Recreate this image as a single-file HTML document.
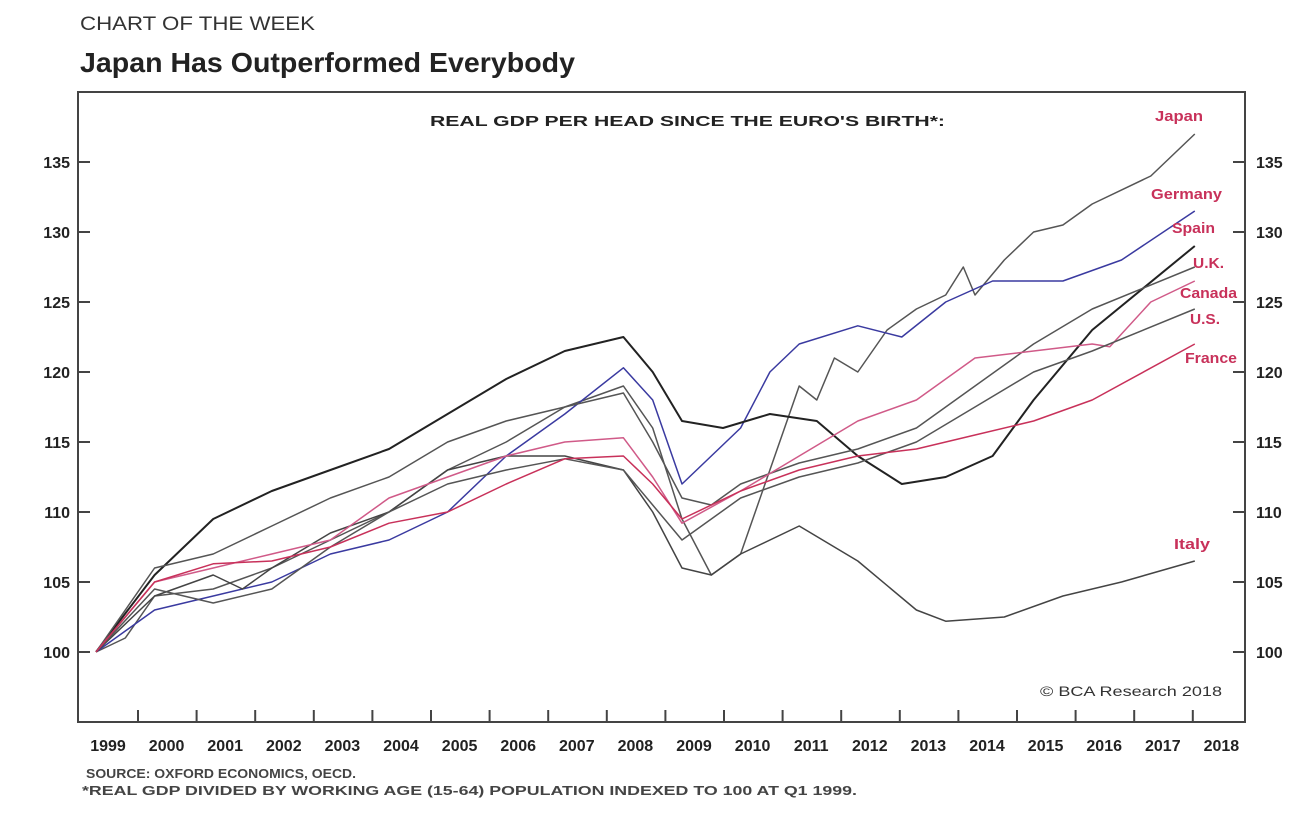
<!DOCTYPE html>
<html><head><meta charset="utf-8"><style>
body{margin:0;background:#fff;width:1316px;height:824px;overflow:hidden;font-family:"Liberation Sans",sans-serif;}
</style></head><body>
<svg id="s" width="1316" height="824" xmlns="http://www.w3.org/2000/svg" font-family="Liberation Sans, sans-serif">
<text x="80" y="30" font-size="19" fill="#333" textLength="235" lengthAdjust="spacingAndGlyphs">CHART OF THE WEEK</text>
<text x="80" y="72" font-size="28" font-weight="bold" fill="#222" textLength="495" lengthAdjust="spacingAndGlyphs">Japan Has Outperformed Everybody</text>
<rect x="78" y="92" width="1167" height="630" fill="none" stroke="#444" stroke-width="2"/>
<text x="430" y="126" font-size="15" font-weight="bold" fill="#222" textLength="515" lengthAdjust="spacingAndGlyphs">REAL GDP PER HEAD SINCE THE EURO'S BIRTH*:</text>
<g id="ax"></g>
<g id="lines" fill="none" stroke-linejoin="round"></g>
<g font-size="15" fill="#c8315a" font-weight="bold">
<text x="1155" y="121" textLength="48" lengthAdjust="spacingAndGlyphs">Japan</text>
<text x="1151" y="199" textLength="71" lengthAdjust="spacingAndGlyphs">Germany</text>
<text x="1172" y="233" textLength="43" lengthAdjust="spacingAndGlyphs">Spain</text>
<text x="1193" y="268" textLength="31" lengthAdjust="spacingAndGlyphs">U.K.</text>
<text x="1180" y="298" textLength="57" lengthAdjust="spacingAndGlyphs">Canada</text>
<text x="1190" y="324" textLength="30" lengthAdjust="spacingAndGlyphs">U.S.</text>
<text x="1185" y="363" textLength="52" lengthAdjust="spacingAndGlyphs">France</text>
<text x="1174" y="549" textLength="36" lengthAdjust="spacingAndGlyphs">Italy</text>
</g>
<text x="1040" y="696" font-size="14" fill="#333" textLength="182" lengthAdjust="spacingAndGlyphs">© BCA Research 2018</text>
<text x="86" y="778" font-size="13" font-weight="bold" fill="#444" textLength="270" lengthAdjust="spacingAndGlyphs">SOURCE: OXFORD ECONOMICS, OECD.</text>
<text x="82" y="795" font-size="13" font-weight="bold" fill="#444" textLength="775" lengthAdjust="spacingAndGlyphs">*REAL GDP DIVIDED BY WORKING AGE (15-64) POPULATION INDEXED TO 100 AT Q1 1999.</text>
</svg>
<script>
var ns="http://www.w3.org/2000/svg";
function X(t){return 96+(t-1999)*58.6;}
function Y(v){return 652-(v-100)*14;}
var ax=document.getElementById('ax'),h='';
for(var v=100;v<=135;v+=5){var y=Y(v);
h+='<line x1="78" y1="'+y+'" x2="90" y2="'+y+'" stroke="#444" stroke-width="2"/>';
h+='<line x1="1233" y1="'+y+'" x2="1245" y2="'+y+'" stroke="#444" stroke-width="2"/>';
h+='<text x="70" y="'+(y+6)+'" font-size="16" font-weight="bold" text-anchor="end" fill="#222">'+v+'</text>';
h+='<text x="1256" y="'+(y+6)+'" font-size="16" font-weight="bold" fill="#222">'+v+'</text>';}
for(var i=0;i<20;i++){var cx=108+i*58.6;
h+='<text x="'+cx+'" y="751" font-size="16" font-weight="bold" text-anchor="middle" fill="#222">'+(1999+i)+'</text>';
if(i<19){var tx=138+i*58.6;h+='<line x1="'+tx+'" y1="710" x2="'+tx+'" y2="722" stroke="#444" stroke-width="2"/>';}}
ax.innerHTML=h;
var S=[
["#555",1.5,[[1999,100],[1999.5,101],[2000,104],[2001,104.5],[2002,106],[2003,108],[2004,110],[2005,113],[2006,115],[2007,117.5],[2008,119],[2008.5,116],[2009,109.5],[2009.5,105.5],[2010,107],[2010.5,113],[2011,119],[2011.3,118],[2011.6,121],[2012,120],[2012.5,123],[2013,124.5],[2013.5,125.5],[2013.8,127.5],[2014,125.5],[2014.5,128],[2015,130],[2015.5,130.5],[2016,132],[2017,134],[2017.75,137]]],
["#3a3aa0",1.5,[[1999,100],[2000,103],[2001,104],[2002,105],[2003,107],[2004,108],[2005,110],[2006,114],[2007,117],[2008,120.3],[2008.5,118],[2009,112],[2010,116],[2010.5,120],[2011,122],[2012,123.3],[2012.75,122.5],[2013.5,125],[2014.3,126.5],[2015.5,126.5],[2016.5,128],[2017.75,131.5]]],
["#444",1.5,[[1999,100],[2000,104],[2001,105.5],[2001.5,104.5],[2002,106],[2003,108.5],[2004,110],[2005,113],[2006,114],[2007,114],[2008,113],[2008.5,110],[2009,106],[2009.5,105.5],[2010,107],[2011,109],[2012,106.5],[2013,103],[2013.5,102.2],[2014.5,102.5],[2015.5,104],[2016.5,105],[2017.75,106.5]]],
["#222",2,[[1999,100],[2000,105.5],[2001,109.5],[2002,111.5],[2003,113],[2004,114.5],[2005,117],[2006,119.5],[2007,121.5],[2008,122.5],[2008.5,120],[2009,116.5],[2009.7,116],[2010.5,117],[2011.3,116.5],[2012,114],[2012.75,112],[2013.5,112.5],[2014.3,114],[2015,118],[2016,123],[2017.75,129]]],
["#555",1.5,[[1999,100],[2000,106],[2001,107],[2002,109],[2003,111],[2004,112.5],[2005,115],[2006,116.5],[2007,117.5],[2008,118.5],[2008.5,115],[2009,111],[2009.5,110.5],[2010,112],[2011,113.5],[2012,114.5],[2013,116],[2014,119],[2015,122],[2016,124.5],[2017.75,127.5]]],
["#d05a88",1.5,[[1999,100],[2000,105],[2001,106],[2002,107],[2003,108],[2004,111],[2005,112.5],[2006,114],[2007,115],[2008,115.3],[2008.5,112.5],[2009,109.2],[2010,111.5],[2011,114],[2012,116.5],[2013,118],[2014,121],[2015,121.5],[2016,122],[2016.3,121.8],[2017,125],[2017.75,126.5]]],
["#555",1.5,[[1999,100],[2000,104.5],[2001,103.5],[2002,104.5],[2003,107.5],[2004,110],[2005,112],[2006,113],[2007,113.8],[2008,113],[2008.5,110.5],[2009,108],[2010,111],[2011,112.5],[2012,113.5],[2013,115],[2014,117.5],[2015,120],[2016,121.5],[2017.75,124.5]]],
["#c8315a",1.5,[[1999,100],[2000,105],[2001,106.3],[2002,106.5],[2003,107.5],[2004,109.2],[2005,110],[2006,112],[2007,113.8],[2008,114],[2008.5,112],[2009,109.5],[2010,111.5],[2011,113],[2012,114],[2013,114.5],[2014,115.5],[2015,116.5],[2016,118],[2017.75,122]]]
];
var g=document.getElementById('lines');
S.forEach(function(s){var p=document.createElementNS(ns,'polyline');
p.setAttribute('points',s[2].map(function(q){return X(q[0]).toFixed(1)+','+Y(q[1]).toFixed(1)}).join(' '));
p.setAttribute('stroke',s[0]);p.setAttribute('stroke-width',s[1]);g.appendChild(p);});
</script>
</body></html>
